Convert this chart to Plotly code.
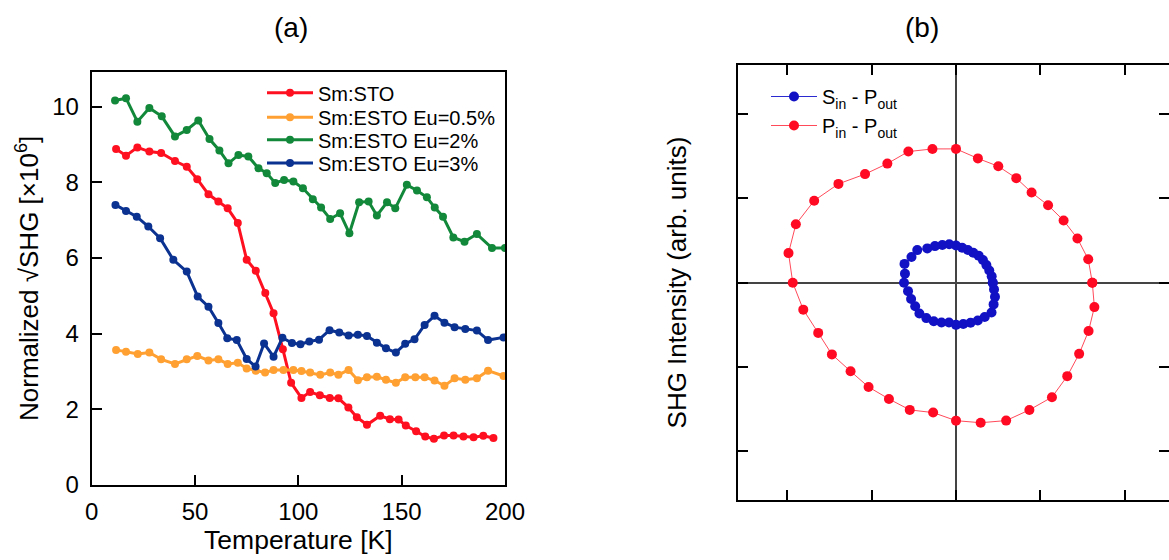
import numpy as np
import plotly.graph_objects as go

# ---------------- Panel (a) data ----------------
red_T = [11.8, 16.6, 22.1, 27.9, 33.6, 40.3, 46.0, 51.1, 56.5, 61.3, 65.8, 70.7, 75.0, 79.4,
         84.0, 88.0, 92.5, 96.5, 101.5, 105.7, 110.4, 115.2, 119.4, 124.2, 128.3, 133.2,
         139.6, 144.3, 148.5, 152.0, 157.0, 161.4, 165.6, 170.5, 175.1, 179.9, 184.8, 189.5, 194.4]
red_v = [8.88, 8.70, 8.92, 8.81, 8.77, 8.56, 8.41, 8.08, 7.68, 7.49, 7.31, 6.92, 5.95, 5.66,
         5.07, 4.54, 3.59, 2.70, 2.30, 2.46, 2.37, 2.30, 2.29, 2.05, 1.79, 1.59,
         1.83, 1.74, 1.73, 1.57, 1.42, 1.28, 1.22, 1.31, 1.31, 1.28, 1.26, 1.30, 1.24]

orange_T = [11.8, 16.6, 22.3, 27.9, 33.6, 40.3, 46.0, 51.1, 56.5, 61.3, 65.8, 70.7, 75.0, 79.4,
            83.9, 88.0, 92.8, 97.6, 101.5, 105.7, 110.6, 115.4, 119.4, 124.3, 128.8, 133.2,
            138.0, 142.4, 147.2, 151.7, 156.6, 161.1, 165.9, 170.7, 175.6, 180.8, 186.4, 191.8, 199.3]
orange_v = [3.57, 3.52, 3.46, 3.50, 3.32, 3.20, 3.32, 3.41, 3.29, 3.32, 3.20, 3.23, 3.08, 3.02,
            2.97, 3.04, 3.04, 3.04, 3.01, 2.97, 2.91, 2.97, 2.91, 3.04, 2.77, 2.85,
            2.86, 2.78, 2.70, 2.85, 2.85, 2.85, 2.76, 2.62, 2.82, 2.78, 2.82, 3.02, 2.88]

green_T = [11.3, 16.6, 22.1, 27.9, 33.9, 40.3, 46.0, 51.6, 57.0, 61.8, 66.2, 71.0, 75.8, 80.7,
           84.7, 88.8, 93.1, 97.6, 102.2, 107.0, 111.0, 115.4, 120.2, 124.7, 129.4, 134.0,
           138.0, 142.9, 146.9, 152.5, 157.4, 162.2, 166.0, 170.0, 175.0, 180.4, 186.4, 193.7, 200.0]
green_v = [10.16, 10.22, 9.60, 9.96, 9.74, 9.21, 9.38, 9.63, 9.14, 8.84, 8.50, 8.72, 8.68, 8.37,
           8.24, 7.98, 8.06, 8.02, 7.84, 7.55, 7.33, 7.03, 7.18, 6.65, 7.47, 7.49,
           7.12, 7.47, 7.31, 7.93, 7.78, 7.60, 7.33, 7.09, 6.54, 6.43, 6.63, 6.26, 6.26]

blue_T = [11.5, 16.6, 21.8, 27.4, 33.1, 39.5, 46.0, 51.3, 56.5, 61.3, 65.6, 70.2, 75.0, 79.3,
          83.4, 88.0, 92.3, 96.9, 101.0, 105.3, 110.0, 115.1, 119.8, 124.3, 128.8, 133.2,
          138.0, 142.4, 147.2, 151.7, 156.2, 161.1, 165.9, 170.7, 175.6, 180.8, 186.4, 191.8, 199.3]
blue_v = [7.40, 7.24, 7.09, 6.83, 6.52, 5.95, 5.64, 4.98, 4.71, 4.28, 3.88, 3.83, 3.33, 3.13,
          3.74, 3.39, 3.89, 3.75, 3.72, 3.79, 3.84, 4.09, 4.03, 3.95, 3.97, 3.94,
          3.76, 3.61, 3.50, 3.73, 3.85, 4.23, 4.47, 4.29, 4.17, 4.12, 4.08, 3.83, 3.90]

series_names = ["Sm:STO", "Sm:ESTO Eu=0.5%", "Sm:ESTO Eu=2%", "Sm:ESTO Eu=3%"]
series_colors = ["#ff1020", "#ffa032", "#12893a", "#0b3290"]

x_ticks_a = [0, 50, 100, 150, 200]
y_ticks_a = [0, 2, 4, 6, 8, 10]

# ---------------- Panel (b) data (polar, angle in degrees) ----------------
pp_angle = [0, 10, 20, 30, 40, 50, 60, 70, 80, 90, 100, 110, 120, 130, 140, 150, 160, 170,
            180, 190, 200, 210, 220, 230, 240, 250, 260, 270, 280, 290, 300, 310, 320, 330,
            340, 350, 360]
pp_r = [1.617, 1.593, 1.533, 1.474, 1.426, 1.395, 1.430, 1.467, 1.495, 1.585, 1.609, 1.653,
        1.629, 1.679, 1.821, 1.943, 2.022, 2.018, 1.937, 1.840, 1.740, 1.700, 1.633, 1.614,
        1.591, 1.604, 1.563, 1.635, 1.685, 1.739, 1.741, 1.771, 1.723, 1.687, 1.674, 1.667, 1.617]

sp_angle = [0, 10, 20, 30, 40, 50, 60, 70, 80, 90, 100, 110, 120, 130, 140, 150, 160, 170,
            180, 190, 200, 210, 220, 230, 240, 250, 260, 270, 280, 290, 300, 310, 320, 330,
            340, 350, 360]
sp_r = [0.436, 0.430, 0.420, 0.416, 0.417, 0.418, 0.410, 0.412, 0.420, 0.440, 0.462, 0.475,
        0.500, 0.530, 0.600, 0.610, 0.650, 0.615, 0.617, 0.578, 0.567, 0.559, 0.567, 0.548,
        0.528, 0.503, 0.480, 0.500, 0.497, 0.505, 0.517, 0.530, 0.550, 0.515, 0.492, 0.458, 0.436]

b_ticks = [-2, -1, 0, 1, 2]

FONT = "Liberation Sans, Arial, Helvetica, sans-serif"

W, H = 1169, 560

def px2x(p):
    return p / W

def px2y(p):
    return (H - p) / H

fig = go.Figure()

legend_ids = ["legend", "legend3", "legend4", "legend5"]
legend_rows = [92.7, 117.3, 139.8, 163.0]   # pixel rows of the legend entries (layout)

for T, v, name, col, lg in zip([red_T, orange_T, green_T, blue_T],
                               [red_v, orange_v, green_v, blue_v],
                               series_names, series_colors, legend_ids):
    fig.add_trace(go.Scatter(x=T, y=v, mode="lines+markers", name=name,
                             line=dict(color=col, width=3),
                             marker=dict(color=col, size=8),
                             xaxis="x", yaxis="y", legend=lg))

def polar_xy(angle, r):
    th = np.deg2rad(np.array(angle, dtype=float))
    rr = np.array(r, dtype=float)
    return rr * np.cos(th), rr * np.sin(th)

sx, sy = polar_xy(sp_angle, sp_r)
px, py = polar_xy(pp_angle, pp_r)

fig.add_trace(go.Scatter(x=sx, y=sy, mode="lines+markers",
                         name="S<sub>in</sub> - P<sub>out</sub>",
                         line=dict(color="#2a2ad0", width=1),
                         marker=dict(color="#1212c4", size=10),
                         xaxis="x2", yaxis="y2", legend="legend2"))
fig.add_trace(go.Scatter(x=px, y=py, mode="lines+markers",
                         name="P<sub>in</sub> - P<sub>out</sub>",
                         line=dict(color="#ff4a5a", width=1),
                         marker=dict(color="#ff0a22", size=10),
                         xaxis="x2", yaxis="y2", legend="legend2"))

# invisible trace so the overlay axis (left frame line of panel b) is drawn
fig.add_trace(go.Scatter(x=[0], y=[0], xaxis="x2", yaxis="y3", mode="markers",
                         marker=dict(opacity=0), showlegend=False, hoverinfo="skip"))

legend_common = dict(x=px2x(262), xanchor="left", yanchor="middle",
                     bgcolor="rgba(0,0,0,0)", font=dict(size=20), itemwidth=46)

layout_legends = {}
for lg, row in zip(legend_ids, legend_rows):
    layout_legends[lg] = dict(legend_common, y=px2y(row))

fig.update_layout(
    width=W, height=H,
    margin=dict(l=0, r=0, t=0, b=0, autoexpand=False),
    paper_bgcolor="white", plot_bgcolor="white",
    font=dict(family=FONT, color="black"),
    showlegend=True,
    xaxis=dict(domain=[px2x(91.7), px2x(505)], range=[0, 200], automargin=False,
               tickvals=x_ticks_a, ticks="inside", ticklen=10, tickwidth=2,
               tickcolor="black", showline=True, linecolor="black", linewidth=2,
               mirror=True, showgrid=False, zeroline=False,
               tickfont=dict(size=24), ticklabelstandoff=4,
               title=dict(text="Temperature [K]", font=dict(size=26.5), standoff=7),
               anchor="y"),
    yaxis=dict(domain=[px2y(485), px2y(71.7)], range=[0, 10.92], automargin=False,
               tickvals=y_ticks_a, ticks="inside", ticklen=10, tickwidth=2,
               tickcolor="black", showline=True, linecolor="black", linewidth=2,
               mirror=True, showgrid=False, zeroline=False,
               tickfont=dict(size=24), ticklabelstandoff=6,
               title=dict(text="Normalized √SHG [×10<sup>6</sup>]", font=dict(size=26), standoff=6),
               anchor="x"),
    xaxis2=dict(domain=[px2x(737.7), 1.0], range=[-2.59, 2.527], automargin=False,
                tickvals=b_ticks, ticks="inside", ticklen=10, tickwidth=2,
                tickcolor="black", showline=True, linecolor="black", linewidth=2,
                mirror="ticks", showgrid=False, showticklabels=False,
                zeroline=True, zerolinecolor="#444444", zerolinewidth=1.5,
                anchor="y2"),
    yaxis2=dict(domain=[px2y(500), px2y(65)], range=[-2.575, 2.579], automargin=False,
                tickvals=b_ticks, ticks="inside", ticklen=10, tickwidth=2,
                tickcolor="black", showline=False,
                mirror="ticks", showgrid=False, showticklabels=False,
                zeroline=True, zerolinecolor="#444444", zerolinewidth=1.5,
                title=dict(text="SHG Intensity (arb. units)", font=dict(size=26), standoff=42),
                anchor="x2"),
    yaxis3=dict(overlaying="y2", anchor="x2", side="left", range=[-2.575, 2.579],
                automargin=False,
                showline=True, linecolor="black", linewidth=2, ticks="",
                showticklabels=False, showgrid=False, zeroline=False),
    legend2=dict(x=px2x(766), y=px2y(77), xanchor="left", yanchor="top",
                 bgcolor="rgba(0,0,0,0)", font=dict(size=20), tracegroupgap=0,
                 itemwidth=46),
    annotations=[
        dict(text="(a)", x=px2x(291), y=px2y(27), xref="paper", yref="paper",
             showarrow=False, font=dict(size=28), xanchor="center", yanchor="middle"),
        dict(text="(b)", x=px2x(922), y=px2y(27), xref="paper", yref="paper",
             showarrow=False, font=dict(size=28), xanchor="center", yanchor="middle"),
    ],
    **layout_legends,
)

fig.write_html("out.html")
